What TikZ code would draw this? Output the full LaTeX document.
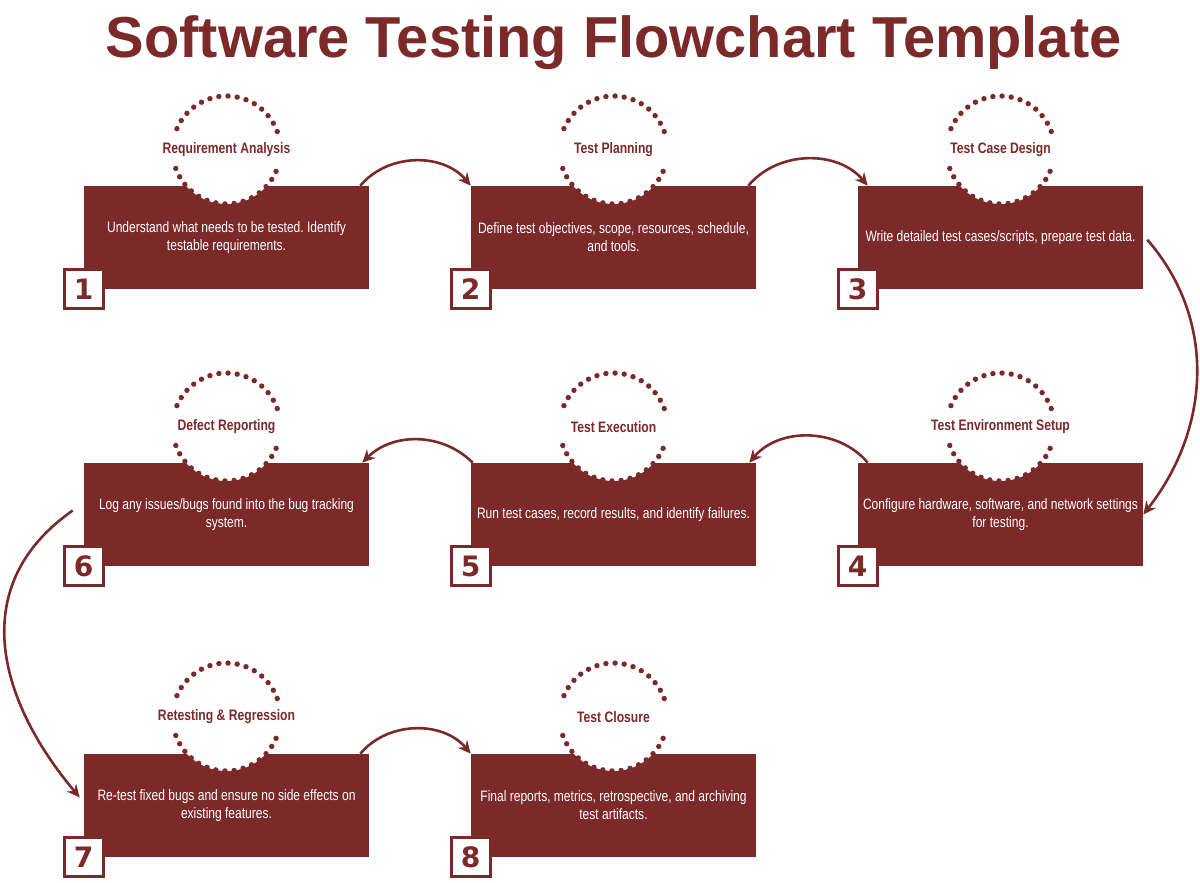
\documentclass[tikz,border=0pt]{standalone}
\usepackage{fontspec}
\setmainfont{Liberation Sans}
\newfontfamily\narrowfont[FakeStretch=0.8]{Liberation Sans}
\newfontfamily\heavyfont{DejaVu Sans}
\usetikzlibrary{arrows.meta}
\definecolor{brick}{HTML}{7B2A29}
\frenchspacing

\begin{document}
\begin{tikzpicture}[
    stepbox/.style={fill=brick, minimum width=7.125cm, minimum height=2.575cm, inner sep=0pt, text=white, align=center, font=\narrowfont\fontsize{10.7}{12.8}\selectfont},
    ring/.style={circle, fill=white, minimum size=2.7cm, inner sep=0pt, outer sep=0pt},
    ringtext/.style={text=brick, font=\narrowfont\bfseries\fontsize{10.8}{12}\selectfont},
    dots/.style={brick, line width=0.135cm, line cap=round, dash pattern=on 0pt off 0.23cm},
    numbox/.style={draw=brick, line width=0.075cm, fill=white, minimum size=0.975cm, inner sep=0pt, text=brick, font=\heavyfont\bfseries\fontsize{20}{20}\selectfont},
    link/.style={brick, line width=0.065cm, -{Stealth[length=0.32cm, width=0.3cm]}},
]
\useasboundingbox (0,0) rectangle (30,22.05);

% Title
\node[anchor=base, text=brick, font=\bfseries\fontsize{41.1}{48}\selectfont] (title) at (15.34, 20.6) {Software Testing Flowchart Template};

% Step boxes
\node[stepbox] (b1) at (5.6625, 16.1125) {Understand what needs to be tested. Identify\\testable requirements.};
\node[stepbox] (b2) at (15.3375, 16.1125) {Define test objectives, scope, resources, schedule,\\and tools.};
\node[stepbox] (b3) at (25.0125, 16.1125) {Write detailed test cases/scripts, prepare test data.};
\node[stepbox] (b4) at (25.0125, 9.1875) {Configure hardware, software, and network settings\\for testing.};
\node[stepbox] (b5) at (15.3375, 9.1875) {Run test cases, record results, and identify failures.};
\node[stepbox] (b6) at (5.6625, 9.1875) {Log any issues/bugs found into the bug tracking\\system.};
\node[stepbox] (b7) at (5.6625, 1.9125) {Re-test fixed bugs and ensure no side effects on\\existing features.};
\node[stepbox] (b8) at (15.3375, 1.9125) {Final reports, metrics, retrospective, and archiving\\test artifacts.};

% Dotted rings with step names
\node[ring, label={[ringtext]center:Requirement Analysis}] (r1) at (5.6625, 18.3) {};
\node[ring, label={[ringtext]center:Test Planning}] (r2) at (15.3375, 18.3) {};
\node[ring, label={[ringtext]center:Test Case Design}] (r3) at (25.0125, 18.3) {};
\node[ring, label={[ringtext]center:Test Environment Setup}] (r4) at (25.0125, 11.375) {};
\node[ring, label={[ringtext]center:Test Execution}] (r5) at (15.3375, 11.375) {};
\node[ring, label={[ringtext]center:Defect Reporting}] (r6) at (5.6625, 11.375) {};
\node[ring, label={[ringtext]center:Retesting \& Regression}] (r7) at (5.6625, 4.125) {};
\node[ring, label={[ringtext]center:Test Closure}] (r8) at (15.3375, 4.125) {};

\draw[dots] (r1.20) arc[start angle=20, end angle=160, radius=1.35cm];
\draw[dots] (r1.200) arc[start angle=200, end angle=340, radius=1.35cm];
\draw[dots] (r2.20) arc[start angle=20, end angle=160, radius=1.35cm];
\draw[dots] (r2.200) arc[start angle=200, end angle=340, radius=1.35cm];
\draw[dots] (r3.20) arc[start angle=20, end angle=160, radius=1.35cm];
\draw[dots] (r3.200) arc[start angle=200, end angle=340, radius=1.35cm];
\draw[dots] (r4.20) arc[start angle=20, end angle=160, radius=1.35cm];
\draw[dots] (r4.200) arc[start angle=200, end angle=340, radius=1.35cm];
\draw[dots] (r5.20) arc[start angle=20, end angle=160, radius=1.35cm];
\draw[dots] (r5.200) arc[start angle=200, end angle=340, radius=1.35cm];
\draw[dots] (r6.20) arc[start angle=20, end angle=160, radius=1.35cm];
\draw[dots] (r6.200) arc[start angle=200, end angle=340, radius=1.35cm];
\draw[dots] (r7.20) arc[start angle=20, end angle=160, radius=1.35cm];
\draw[dots] (r7.200) arc[start angle=200, end angle=340, radius=1.35cm];
\draw[dots] (r8.20) arc[start angle=20, end angle=160, radius=1.35cm];
\draw[dots] (r8.200) arc[start angle=200, end angle=340, radius=1.35cm];

% Step numbers
\node[numbox] (n1) at (b1.south west) {1};
\node[numbox] (n2) at (b2.south west) {2};
\node[numbox] (n3) at (b3.south west) {3};
\node[numbox] (n4) at (b4.south west) {4};
\node[numbox] (n5) at (b5.south west) {5};
\node[numbox] (n6) at (b6.south west) {6};
\node[numbox] (n7) at (b7.south west) {7};
\node[numbox] (n8) at (b8.south west) {8};

% Flow arrows
\draw[link] ([xshift=-0.225cm]b1.north east) to[bend left=50] (b2.north west);
\draw[link] ([xshift=-0.2cm]b2.north east) to[bend left=50] ([xshift=0.25cm]b3.north west);
\draw[link] ([xshift=0.1cm,yshift=-1.35cm]b3.north east) to[out=-49, in=52] (b4.east);
\draw[link] ([xshift=0.25cm]b4.north west) to[bend right=50] ([xshift=-0.175cm]b5.north east);
\draw[link] ([xshift=0.05cm]b5.north west) to[bend right=45] ([xshift=-0.175cm]b6.north east);
\draw[link] ([xshift=-0.275cm,yshift=0.1cm]b6.west) to[out=215, in=130, looseness=1.15] ([xshift=-0.1cm,yshift=0.2cm]b7.west);
\draw[link] ([xshift=-0.225cm]b7.north east) to[bend left=50] (b8.north west);

\end{tikzpicture}
\end{document}
